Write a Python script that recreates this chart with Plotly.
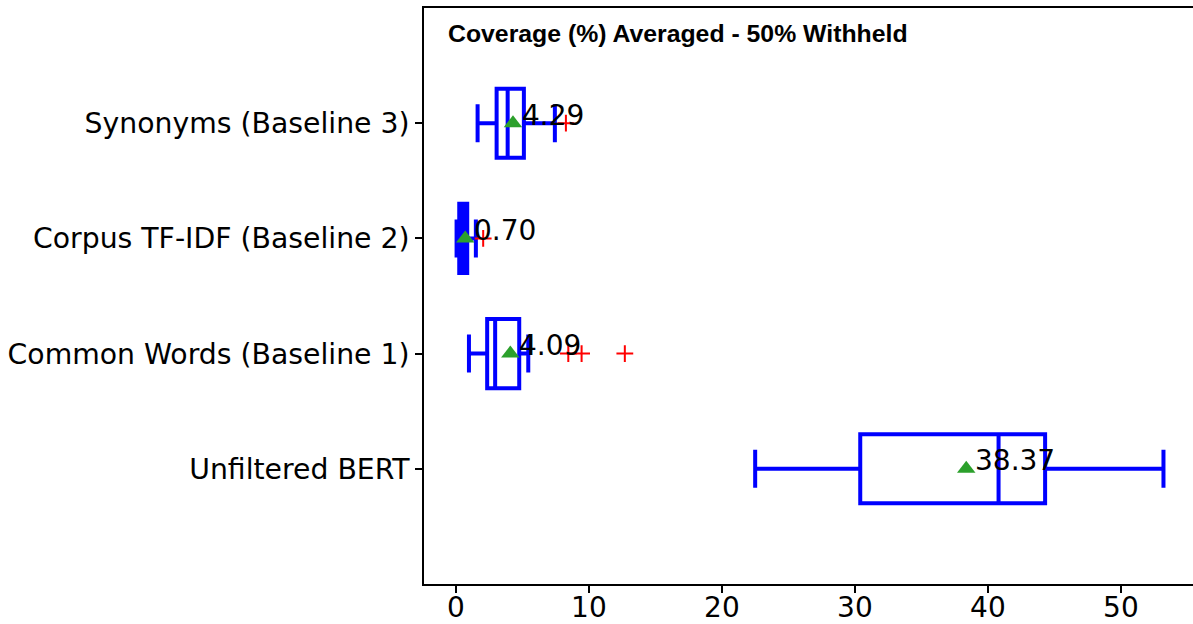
import plotly.graph_objects as go

categories = ["Unfiltered BERT", "Common Words (Baseline 1)",
              "Corpus TF-IDF (Baseline 2)", "Synonyms (Baseline 3)"]
positions = [1, 2, 3, 4]
lower_whisker = [22.5, 0.98, 0.05, 1.63]
q1 = [30.4, 2.35, 0.25, 3.06]
median = [40.8, 2.95, 0.55, 3.89]
q3 = [44.3, 4.76, 0.85, 5.11]
upper_whisker = [53.2, 5.44, 1.50, 7.44]
means = [38.37, 4.09, 0.70, 4.29]
outlier_pos = [2, 2, 2, 3, 4]
outlier_vals = [8.45, 9.45, 12.7, 2.05, 8.27]
x_ticks = [0, 10, 20, 30, 40, 50]
title_text = "Coverage (%) Averaged - 50% Withheld"

fig = go.Figure()
fig.add_trace(go.Box(
    y=positions, q1=q1, median=median, q3=q3,
    lowerfence=lower_whisker, upperfence=upper_whisker,
    orientation="h", width=0.6, whiskerwidth=0.55,
    line=dict(color="#0000ff", width=4), fillcolor="rgba(255,255,255,0)",
    boxpoints=False, showlegend=False,
))
fig.add_trace(go.Scatter(
    x=outlier_vals, y=outlier_pos, mode="markers",
    marker=dict(symbol="cross-thin", size=12, line=dict(color="red", width=2)),
    showlegend=False,
))
fig.add_trace(go.Scatter(
    x=means, y=positions, mode="markers",
    marker=dict(symbol="triangle-up", size=16, color="#2ca02c"),
    showlegend=False,
))
for m, p in zip(means, positions):
    fig.add_annotation(x=m, y=p, text=f"{m:.2f}", showarrow=False,
                       xanchor="left", yanchor="middle", xshift=7, yshift=8,
                       font=dict(family="DejaVu Sans", size=28, color="black"))

fig.add_annotation(x=(446 - 424) / 769, y=(584 - 33) / 576, xref="paper", yref="paper",
                   text=f"<b>{title_text}</b>", showarrow=False,
                   xanchor="left", yanchor="middle",
                   font=dict(family="Liberation Sans", size=24.8, color="black"))

fig.update_layout(
    width=1193, height=624,
    margin=dict(l=424, r=0, t=8, b=40),
    plot_bgcolor="white", paper_bgcolor="white",
    font=dict(family="DejaVu Sans", size=28, color="black"),
    xaxis=dict(range=[-2.4, 55.42], tickvals=x_ticks, ticks="outside", ticklen=7,
               tickwidth=1.5, tickcolor="black", showline=True, linecolor="black",
               linewidth=1.5, mirror=True, showgrid=False, zeroline=False,
               automargin=False, ticklabelstandoff=-9, tickfont=dict(size=28)),
    yaxis=dict(range=[0, 5], tickvals=positions, ticktext=categories, ticks="outside",
               ticklen=7, tickwidth=1.5, tickcolor="black", showline=True,
               linecolor="black", linewidth=1.5, showgrid=False, zeroline=False,
               automargin=False, tickfont=dict(size=28.3)),
)
fig.write_html("out.html")
